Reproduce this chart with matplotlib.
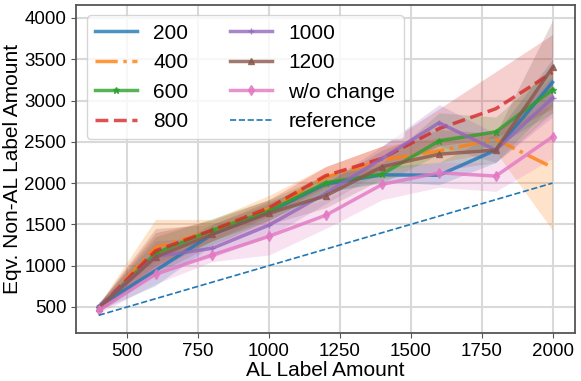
"""
AL label amount vs. equivalent non-AL label amount, with spread bands.
"""

import matplotlib

matplotlib.use("Agg")
import matplotlib.pyplot as plt
import numpy as np

# ── Data ─────────────────────────────────────────────────────────────────────

x_amount = [400, 600, 800, 1000, 1200, 1400, 1600, 1800, 2000]

labels = ["200", "400", "600", "800", "1000", "1200", "w/o change"]

mean_200 = [510, 940, 1380, 1650, 1990, 2100, 2095, 2400, 3220]
low_200 = [460, 760, 1250, 1550, 1880, 2020, 1980, 2250, 2950]
high_200 = [560, 1150, 1500, 1750, 2100, 2200, 2250, 2600, 3500]

mean_400 = [480, 1220, 1420, 1690, 2070, 2280, 2390, 2530, 2190]
low_400 = [430, 1000, 1300, 1550, 1920, 2150, 2250, 2380, 1430]
high_400 = [530, 1560, 1560, 1850, 2200, 2450, 2550, 2650, 2950]

mean_600 = [490, 1150, 1430, 1660, 2005, 2110, 2510, 2620, 3130]
low_600 = [440, 950, 1300, 1550, 1900, 2000, 2350, 2450, 2850]
high_600 = [540, 1350, 1570, 1800, 2100, 2250, 2850, 2800, 3400]

mean_800 = [490, 1180, 1430, 1700, 2090, 2300, 2660, 2900, 3340]
low_800 = [440, 1000, 1300, 1600, 1950, 2150, 2450, 2550, 2900]
high_800 = [540, 1400, 1550, 1800, 2200, 2450, 2900, 3350, 3800]

mean_1000 = [500, 1110, 1210, 1490, 1875, 2300, 2730, 2400, 3030]
low_1000 = [450, 950, 1100, 1350, 1750, 2150, 2450, 2250, 2800]
high_1000 = [550, 1300, 1350, 1650, 2000, 2450, 2950, 2600, 3300]

mean_1200 = [490, 1105, 1380, 1635, 1845, 2200, 2350, 2400, 3400]
low_1200 = [440, 900, 1250, 1500, 1700, 2050, 2150, 2250, 2850]
high_1200 = [540, 1450, 1500, 1780, 2000, 2400, 2650, 2600, 3970]

mean_nochange = [460, 895, 1130, 1355, 1610, 1985, 2125, 2085, 2560]
low_nochange = [420, 780, 1050, 1130, 1450, 1800, 1950, 1900, 2300]
high_nochange = [500, 1050, 1250, 1600, 1800, 2150, 2250, 2250, 2900]

reference = [400, 600, 800, 1000, 1200, 1400, 1600, 1800, 2000]

# ── Style ────────────────────────────────────────────────────────────────────

plt.rcParams.update(
    {
        "font.family": ["Liberation Sans", "DejaVu Sans"],
        "axes.edgecolor": "#555555",
        "axes.linewidth": 1.3,
        "grid.color": "#d9d9d9",
        "grid.linewidth": 1.5,
    }
)

STYLES = [
    ("C0", "-", None),
    ("C1", "-.", None),
    ("C2", "-", "*"),
    ("C3", "--", None),
    ("C4", "-", "+"),
    ("C5", "-", "^"),
    ("C6", "-", "d"),
]

series = [
    (mean_200, low_200, high_200),
    (mean_400, low_400, high_400),
    (mean_600, low_600, high_600),
    (mean_800, low_800, high_800),
    (mean_1000, low_1000, high_1000),
    (mean_1200, low_1200, high_1200),
    (mean_nochange, low_nochange, high_nochange),
]

fig, ax = plt.subplots(figsize=(5.81, 3.81), dpi=100)
fig.subplots_adjust(left=0.131, right=0.990, top=0.987, bottom=0.126)

for label, (mean, low, high), (color, ls, marker) in zip(labels, series, STYLES):
    ax.fill_between(x_amount, low, high, color=color, alpha=0.22, linewidth=0)
    ax.plot(
        x_amount,
        mean,
        color=color,
        linestyle=ls,
        marker=marker,
        markersize=5,
        linewidth=2.5,
        alpha=0.8,
        label=label,
    )

ax.plot(x_amount, reference, color="C0", linestyle="--", linewidth=1.2, label="reference")

ax.set_xlim(320, 2080)
ax.set_ylim(185, 4157)
ax.set_xticks([500, 750, 1000, 1250, 1500, 1750, 2000])
ax.set_yticks([500, 1000, 1500, 2000, 2500, 3000, 3500, 4000])
ax.grid(True)
ax.set_axisbelow(True)
ax.tick_params(labelsize=13.5, color="#555555")

ax.set_xlabel("AL Label Amount", fontsize=15, labelpad=1)
ax.set_ylabel("Eqv. Non-AL Label Amount", fontsize=15, labelpad=2)

ax.legend(loc="upper left", ncol=2, fontsize=15, handlelength=2.0,
          columnspacing=2.0, labelspacing=0.5, borderpad=0.4)

fig.savefig("out.png", dpi=100)
